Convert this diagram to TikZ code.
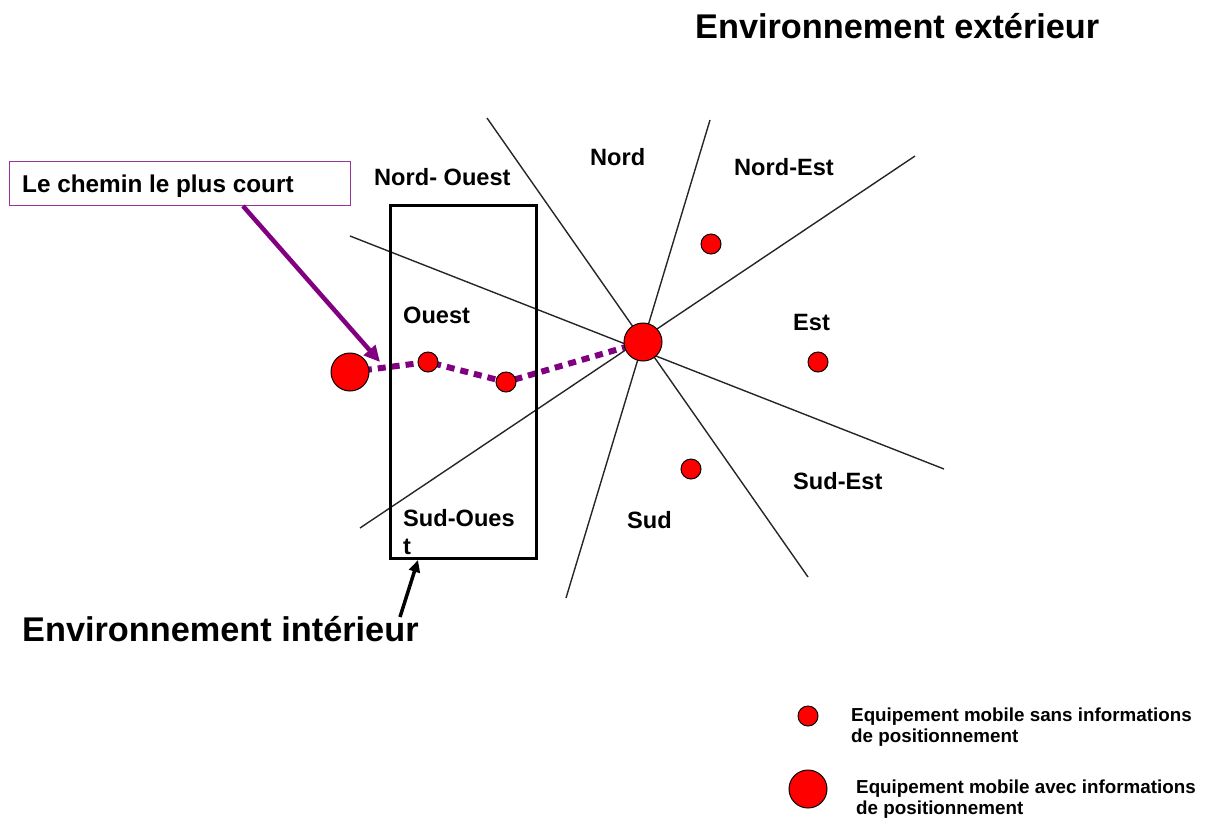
\documentclass[tikz,border=0pt]{standalone}
\usepackage{fontspec}
\setmainfont{Liberation Sans}
\usetikzlibrary{arrows.meta,backgrounds}
\definecolor{pathpurple}{HTML}{800080}
\definecolor{devred}{HTML}{FF0000}
\tikzset{
  lbl/.style={anchor=base west, inner sep=0pt, font=\bfseries\fontsize{23.6}{28}\selectfont},
  title/.style={anchor=base west, inner sep=0pt, font=\bfseries\fontsize{34.3}{40}\selectfont},
  legendtext/.style={anchor=north west, inner sep=0pt, align=left, font=\bfseries\fontsize{18.8}{21}\selectfont},
  dev/.style={circle, draw=black, line width=1pt, fill=devred, inner sep=0pt, minimum size=20pt},
  devpos/.style={dev, minimum size=38pt},
  sector/.style={line width=1.4pt, draw=black!85},
  zonebox/.style={draw=black, line width=3pt},
  shortest/.style={draw=pathpurple, line width=6pt, dash pattern=on 8pt off 6pt},
  callout/.style={draw=pathpurple, line width=4.5pt, -{Triangle[length=16pt,width=15pt]}},
  pointer/.style={draw=black, line width=3.5pt, -{Triangle[length=12pt,width=11pt]}},
  calloutbox/.style={draw=pathpurple!80, line width=1.2pt, minimum width=341pt, minimum height=44pt, inner sep=0pt}
}
\begin{document}
\begin{tikzpicture}[x=1pt, y=-1pt]
\useasboundingbox (0,0) rectangle (1207,823);

% sector boundaries (end points)
\coordinate (l1a) at (487,118); \coordinate (l1b) at (808,577);
\coordinate (l2a) at (350,236); \coordinate (l2b) at (944,469);
\coordinate (l3a) at (710,120); \coordinate (l3b) at (566,598);
\coordinate (l4a) at (915,156); \coordinate (l4b) at (360,528);

% indoor environment
\draw[zonebox] (390,205) rectangle (536,558);
\coordinate (boxbottom) at (418,560);

% mobile devices
\node[devpos] (start) at (350,372) {};
\node[dev] (d1) at (428,362) {};
\node[dev] (d2) at (506,382) {};
\node[devpos] (hub) at (643,342) {};
\node[dev] (ne) at (711,244) {};
\node[dev] (e) at (818,362) {};
\node[dev] (s) at (691,469) {};

\begin{scope}[on background layer]
  \draw[sector] (l1a) -- (l1b);
  \draw[sector] (l2a) -- (l2b);
  \draw[sector] (l3a) -- (l3b);
  \draw[sector] (l4a) -- (l4b);
  \draw[shortest] (start.center) -- (d1.center) -- (d2.center) -- (hub.center);
\end{scope}

% sector labels
\node[lbl] (nord) at (590,165) {Nord};
\node[lbl] (no) at (374,185) {Nord- Ouest};
\node[lbl] (nest) at (734,175) {Nord-Est};
\node[lbl] (ouest) at (403,323) {Ouest};
\node[lbl] (est) at (793,330) {Est};
\node[lbl] (sest) at (793,489) {Sud-Est};
\node[lbl] (sud) at (627,528) {Sud};
\node[anchor=north west, inner sep=0pt, align=left, font=\bfseries\fontsize{23.6}{28}\selectfont] (so) at (403,509) {Sud-Oues\\t};

% titles
\node[title] (ext) at (695,38) {Environnement extérieur};
\node[title] (int) at (22,641) {Environnement intérieur};
\coordinate (inttail) at (400,617);
\draw[pointer] (inttail) -- (boxbottom);

% shortest path callout
\node[calloutbox, anchor=north west] (cbox) at (9,161) {};
\node[lbl, font=\bfseries\fontsize{24.3}{28}\selectfont] (ctext) at (22,192) {Le chemin le plus court};
\coordinate (ctail) at (243,206);
\coordinate (ctip) at (380,362);
\draw[callout] (ctail) -- (ctip);

% legend
\node[dev] (legsmall) at (808,716) {};
\node[legendtext] (legsmalltext) at (851,708) {Equipement mobile sans informations\\de positionnement};
\node[devpos] (legbig) at (808,789) {};
\node[legendtext] (legbigtext) at (856,779.5) {Equipement mobile avec informations\\de positionnement};
\end{tikzpicture}
\end{document}
